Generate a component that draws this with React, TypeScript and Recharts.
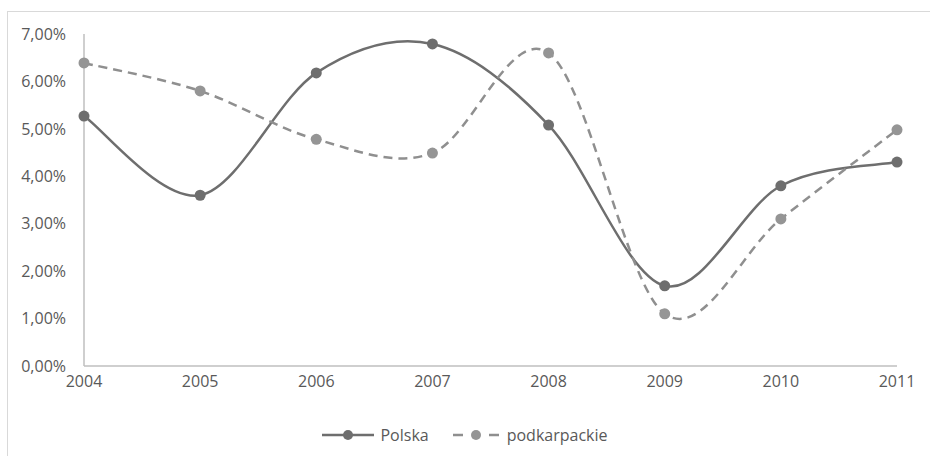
import React from 'react';
import { LineChart, Line, XAxis, YAxis } from 'recharts';

const years = ['2004', '2005', '2006', '2007', '2008', '2009', '2010', '2011'];
const polska = [5.27, 3.6, 6.18, 6.79, 5.08, 1.69, 3.8, 4.3];
const podkarpackie = [6.39, 5.8, 4.78, 4.49, 6.6, 1.1, 3.1, 4.98];
const yTicks = [0, 1, 2, 3, 4, 5, 6, 7];
const seriesNames = ['Polska', 'podkarpackie'];

const data = years.map((year, i) => ({ year, polska: polska[i], podkarpackie: podkarpackie[i] }));

const fmt = (v: number) => `${v.toFixed(2).replace('.', ',')}%`;

// Excel-like smoothed line (cardinal spline, tension 0)
const excelCurve = (context: any) => {
  let pts: [number, number][] = [];
  return {
    areaStart() {},
    areaEnd() {},
    lineStart() {
      pts = [];
    },
    point(x: number, y: number) {
      pts.push([+x, +y]);
    },
    lineEnd() {
      if (!pts.length) return;
      context.moveTo(pts[0][0], pts[0][1]);
      for (let i = 0; i < pts.length - 1; i++) {
        const p0 = pts[i - 1] || pts[i];
        const p1 = pts[i];
        const p2 = pts[i + 1];
        const p3 = pts[i + 2] || p2;
        context.bezierCurveTo(
          p1[0] + (p2[0] - p0[0]) / 6,
          p1[1] + (p2[1] - p0[1]) / 6,
          p2[0] - (p3[0] - p1[0]) / 6,
          p2[1] - (p3[1] - p1[1]) / 6,
          p2[0],
          p2[1]
        );
      }
    },
  };
};

const textColor = '#595959';
const axisColor = '#bfbfbf';

export default function App() {
  return (
    <div style={{ position: 'absolute', left: 0, top: 0, width: 930, height: 456, background: '#fff', fontFamily: '"Open Sans", sans-serif', overflow: 'hidden' }}>
      <div style={{ position: 'absolute', left: 7, top: 11, width: 940, height: 460, border: '1px solid #d9d9d9' }} />
      <LineChart width={930} height={456} data={data} margin={{ top: 34, right: 33, left: 4, bottom: 60 }}>
        <XAxis
          dataKey="year"
          axisLine={{ stroke: axisColor, strokeWidth: 1.5 }}
          tickLine={false}
          tickSize={0}
          tickMargin={10}
          height={30}
          tick={{ fill: textColor, fontSize: 16 }}
        />
        <YAxis
          domain={[0, 7]}
          ticks={yTicks}
          tickFormatter={fmt}
          axisLine={{ stroke: axisColor, strokeWidth: 1.5 }}
          tickLine={false}
          tickSize={0}
          tickMargin={18}
          width={80}
          tick={{ fill: textColor, fontSize: 16 }}
        />
        <Line
          dataKey="polska"
          name={seriesNames[0]}
          type={excelCurve as any}
          stroke="#6e6e6e"
          strokeWidth={2.5}
          dot={{ r: 5.5, fill: '#6e6e6e', stroke: 'none' }}
          isAnimationActive={false}
        />
        <Line
          dataKey="podkarpackie"
          name={seriesNames[1]}
          type={excelCurve as any}
          stroke="#8f8f8f"
          strokeWidth={2.5}
          strokeDasharray="9 6"
          dot={{ r: 5.5, fill: '#959595', stroke: 'none', strokeDasharray: '' }}
          isAnimationActive={false}
        />
      </LineChart>
      <div style={{ position: 'absolute', top: 424, left: 0, width: 930, display: 'flex', justifyContent: 'center', alignItems: 'center', gap: 22, fontSize: 16, color: textColor }}>
        <div style={{ display: 'flex', alignItems: 'center', gap: 6 }}>
          <svg width={52} height={14}>
            <line x1={0} y1={7} x2={52} y2={7} stroke="#6e6e6e" strokeWidth={2.5} />
            <circle cx={26} cy={7} r={5} fill="#6e6e6e" />
          </svg>
          <span>{seriesNames[0]}</span>
        </div>
        <div style={{ display: 'flex', alignItems: 'center', gap: 6 }}>
          <svg width={50} height={14}>
            <line x1={2} y1={7} x2={12} y2={7} stroke="#8f8f8f" strokeWidth={2.5} />
            <line x1={38} y1={7} x2={48} y2={7} stroke="#8f8f8f" strokeWidth={2.5} />
            <circle cx={25} cy={7} r={5} fill="#959595" />
          </svg>
          <span>{seriesNames[1]}</span>
        </div>
      </div>
    </div>
  );
}
